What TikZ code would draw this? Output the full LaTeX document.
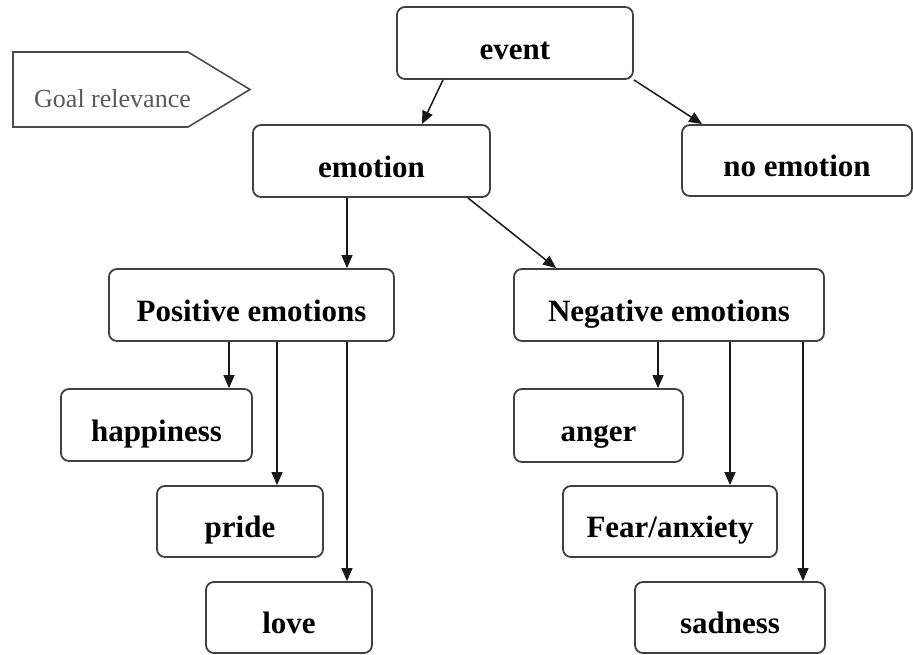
\documentclass[tikz,border=0pt]{standalone}
\usepackage{fontspec}
\setmainfont{Liberation Serif}
\usetikzlibrary{arrows.meta}
\begin{document}
\begin{tikzpicture}[x=1pt,y=-1pt,
  box/.style={draw=black!75, line width=1.8pt, rounded corners=8pt, inner sep=0pt,
    text height=40pt, text depth=8pt, font=\fontsize{31}{36}\selectfont\bfseries},
  arr/.style={draw=black!90, line width=1.5pt, -{Triangle[length=13pt,width=11pt]}}]
\useasboundingbox (0,0) rectangle (913,654);
\fill[white] (0,0) rectangle (913,654);

% goal relevance tag
\draw[draw=black!70, line width=1.6pt] (13,52) -- (188,52) -- (250,89.5) -- (188,127) -- (13,127) -- cycle;
\node[text=black!65, font=\fontsize{26}{30}\selectfont, anchor=base] (goal) at (112.5,107) {Goal relevance};

% top levels
\node[box, minimum width=236pt, minimum height=72pt] (event) at (515,43) {event};
\node[box, minimum width=237pt, minimum height=72pt] (emo) at (371.5,161) {emotion};
\node[box, minimum width=230pt, minimum height=71pt] (noemo) at (797,160.5) {no emotion};

% emotion groups
\node[box, minimum width=285pt, minimum height=72pt] (pos) at (251.5,305) {Positive emotions};
\node[box, minimum width=310pt, minimum height=72pt] (neg) at (669,305) {Negative emotions};

% positive emotions
\node[box, minimum width=191pt, minimum height=72pt] (hap) at (156.5,425) {happiness};
\node[box, minimum width=166pt, minimum height=71pt] (pride) at (240,521.5) {pride};
\node[box, minimum width=166pt, minimum height=71pt] (love) at (289,617.5) {love};

% negative emotions
\node[box, minimum width=169pt, minimum height=73pt] (anger) at (598.5,425.5) {anger};
\node[box, minimum width=214pt, minimum height=71pt] (fear) at (670,521.5) {Fear/anxiety};
\node[box, minimum width=190pt, minimum height=71pt] (sad) at (730,617.5) {sadness};

% connectors
\draw[arr] ([xshift=-72pt]event.south) -- ([xshift=50.5pt]emo.north);
\draw[arr] (event.south east) -- ([xshift=21pt]noemo.north west);
\draw[arr] ([xshift=-24.5pt]emo.south) -- ([xshift=95.5pt]pos.north);
\draw[arr] ([xshift=-23pt]emo.south east) -- ([xshift=43pt]neg.north west);

\draw[arr] ([xshift=-22.5pt]pos.south) -- ([xshift=72.5pt]hap.north);
\draw[arr] ([xshift=25.5pt]pos.south) -- ([xshift=37pt]pride.north);
\draw[arr] ([xshift=95.5pt]pos.south) -- ([xshift=58pt]love.north);

\draw[arr] ([xshift=-11pt]neg.south) -- ([xshift=59.5pt]anger.north);
\draw[arr] ([xshift=61pt]neg.south) -- ([xshift=60pt]fear.north);
\draw[arr] ([xshift=134pt]neg.south) -- ([xshift=73pt]sad.north);
\end{tikzpicture}
\end{document}
